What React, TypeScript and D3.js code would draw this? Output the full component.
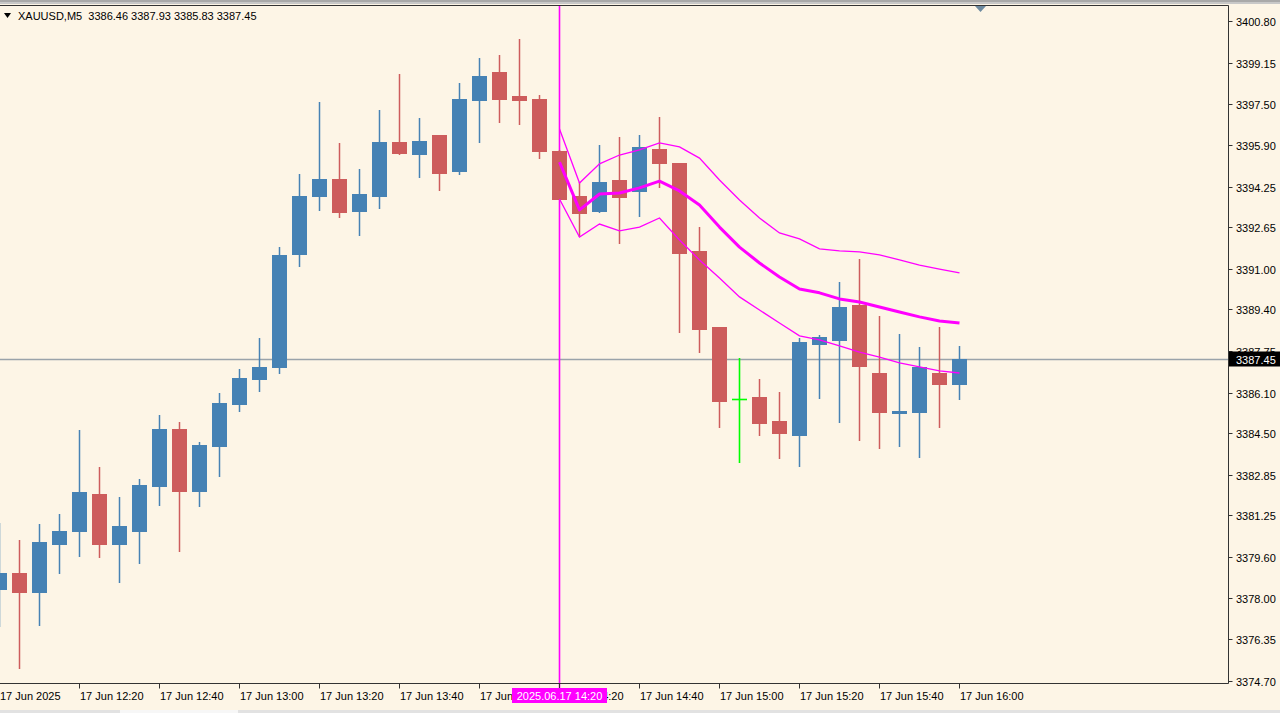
import React from "react";
import * as d3 from "d3";

const times = [
  "12:00","12:05","12:10","12:15","12:20","12:25","12:30","12:35","12:40","12:45",
  "12:50","12:55","13:00","13:05","13:10","13:15","13:20","13:25","13:30","13:35",
  "13:40","13:45","13:50","13:55","14:00","14:05","14:10","14:15","14:20","14:25",
  "14:30","14:35","14:40","14:45","14:50","14:55","15:00","15:05","15:10","15:15",
  "15:20","15:25","15:30","15:35","15:40","15:45","15:50","15:55","16:00",
];
const open = [
  3378.34,3378.97,3378.20,3380.12,3380.64,3382.10,3380.12,3380.64,3382.41,3384.67,
  3382.22,3384.00,3385.64,3386.64,3387.12,3391.59,3393.88,3394.55,3393.29,3393.88,
  3396.02,3395.54,3396.29,3394.87,3397.68,3398.78,3397.83,3397.72,3395.66,3393.88,
  3393.29,3394.51,3394.08,3395.74,3395.19,3391.71,3388.70,3385.85,3385.93,3384.98,
  3384.43,3388.03,3388.19,3389.57,3386.88,3385.30,3385.34,3386.88,3386.46,
];
const high = [
  3380.95,3380.28,3380.91,3381.31,3384.63,3383.16,3381.98,3382.69,3385.22,3384.94,
  3384.15,3386.09,3387.04,3388.27,3391.86,3394.75,3397.60,3395.98,3394.95,3397.28,
  3398.70,3396.96,3396.29,3398.35,3399.34,3399.46,3400.09,3397.87,3395.70,3394.43,
  3395.90,3396.21,3396.29,3397.00,3395.19,3392.65,3388.70,3387.47,3386.64,3386.13,
  3388.27,3388.38,3390.48,3391.39,3389.14,3388.42,3387.91,3388.70,3387.93,
];
const low = [
  3376.84,3375.18,3376.88,3378.93,3379.61,3379.57,3378.58,3379.33,3381.62,3379.80,
  3381.58,3382.77,3385.34,3386.13,3386.84,3391.07,3393.29,3393.01,3392.30,3393.37,
  3395.50,3394.59,3394.08,3394.71,3395.98,3396.77,3396.69,3395.34,3393.72,3392.26,
  3393.21,3391.98,3393.05,3394.20,3388.46,3387.67,3384.71,3383.32,3384.39,3383.48,
  3383.16,3385.85,3384.91,3384.19,3383.88,3383.96,3383.52,3384.71,3385.83,
];
const close = [
  3378.97,3378.20,3380.20,3380.64,3382.18,3380.12,3380.83,3382.45,3384.67,3382.22,
  3384.03,3385.70,3386.68,3387.12,3391.55,3393.88,3394.55,3393.25,3393.96,3396.02,
  3395.58,3396.06,3394.79,3397.72,3398.63,3397.72,3397.68,3395.66,3393.76,3393.21,
  3394.43,3393.84,3395.82,3395.19,3391.63,3388.62,3385.77,3385.85,3384.91,3384.51,
  3388.11,3388.31,3389.49,3387.16,3385.34,3385.38,3387.12,3386.46,3387.45,
];

// Indicator (starts at 14:20)
const bandStart = "14:20";
const bandUpper = [
  3396.53,3394.39,3395.15,3395.50,3395.70,3395.98,3395.82,3395.38,3394.51,3393.72,
  3393.01,3392.42,3392.18,3391.79,3391.71,3391.67,3391.55,3391.35,3391.15,3390.99,3390.84,
];
const bandMiddle = [
  3395.22,3393.33,3393.96,3394.00,3394.20,3394.47,3394.08,3393.52,3392.65,3391.86,
  3391.23,3390.68,3390.20,3390.05,3389.81,3389.69,3389.49,3389.29,3389.10,3388.94,3388.86,
];
const bandLower = [
  3393.76,3392.26,3392.77,3392.50,3392.65,3393.01,3392.14,3391.35,3390.64,3389.89,
  3389.37,3388.86,3388.35,3388.19,3387.95,3387.71,3387.51,3387.28,3387.12,3386.96,3386.88,
];

const priceTicks = [
  "3400.80","3399.15","3397.50","3395.90","3394.25","3392.65","3391.00","3389.40","3387.75",
  "3386.10","3384.50","3382.85","3381.25","3379.60","3378.00","3376.35","3374.70",
];
const timeTicks = ["12:00","12:20","12:40","13:00","13:20","13:40","14:00","14:20","14:40","15:00","15:20","15:40","16:00"];
const timeTickTexts = [
  "17 Jun 2025","17 Jun 12:20","17 Jun 12:40","17 Jun 13:00","17 Jun 13:20","17 Jun 13:40",
  "17 Jun 14:00","17 Jun 14:20","17 Jun 14:40","17 Jun 15:00","17 Jun 15:20","17 Jun 15:40","17 Jun 16:00",
];
const symbol = "XAUUSD,M5";
const lastPrice = 3387.45;
const crossTime = "14:20";
const crossLabel = "2025.06.17 14:20";

const W = 1280, H = 713;
const plotRight = 1228.5, plotTop = 5.5, plotBottom = 683.5;
const BG = "#FDF5E6";
const BULL = "#4682B4";
const BEAR = "#CD5C5C";
const DOJI = "#00FF00";
const MAG = "#FF00FF";
const FONT = "'Liberation Sans', Arial, sans-serif";

export default function App() {
  const x = d3.scalePoint<string>().domain(times).range([-1, 959]);
  const y = d3.scaleLinear().domain([3374.7, 3400.8]).range([681, 21]);

  const startIdx = times.indexOf(bandStart);
  const line = d3
    .line<number>()
    .x((_, i) => (x(times[startIdx + i]) as number) + 0.5)
    .y((v) => y(v));

  const fmt = d3.format(".2f");
  const header = [open, high, low, close].map((a) => fmt(a[a.length - 1])).join(" ");
  const crossX = (x(crossTime) as number) + 0.5;
  const lastY = Math.round(y(lastPrice)) + 0.5;

  return (
    <div style={{ position: "fixed", left: 0, top: 0, width: W, height: H, overflow: "hidden" }}>
      <svg width={W} height={H} style={{ display: "block" }} fontFamily={FONT}>
        <rect x={0} y={0} width={W} height={H} fill={BG} />
        <rect x={0} y={0} width={W} height={2} fill="#a9a9a9" />
        <rect x={0} y={2} width={W} height={2} fill="#c8c8c8" />
        <rect x={0} y={710} width={W} height={3} fill="#e2e2e2" />
        <rect x={120} y={710} width={118} height={3} fill="#f7f7f7" />

        {/* current price line */}
        <line x1={0} x2={plotRight} y1={lastY} y2={lastY} stroke="#9aa3aa" strokeWidth={1.3} />

        {/* crosshair vertical */}
        <line x1={crossX} x2={crossX} y1={plotTop} y2={688} stroke={MAG} strokeWidth={1.6} />

        {/* candles */}
        {times.map((t, i) => {
          const cx = x(t) as number;
          const o = open[i], c = close[i];
          const hiY = Math.round(y(high[i]));
          const loY = Math.round(y(low[i]));
          if (o === c) {
            const yy = Math.round(y(o)) + 0.5;
            return (
              <g key={t}>
                <line x1={cx + 0.5} x2={cx + 0.5} y1={hiY} y2={loY} stroke={DOJI} strokeWidth={1.6} />
                <line x1={cx - 7} x2={cx + 8} y1={yy} y2={yy} stroke={DOJI} strokeWidth={1.6} />
              </g>
            );
          }
          const col = c > o ? BULL : BEAR;
          const top = Math.round(y(Math.max(o, c)));
          const bot = Math.round(y(Math.min(o, c)));
          return (
            <g key={t}>
              <line x1={cx + 0.5} x2={cx + 0.5} y1={hiY} y2={loY} stroke={col} strokeWidth={1.5} />
              <rect x={cx - 7} y={top} width={15} height={Math.max(2, bot - top + 1)} fill={col} />
            </g>
          );
        })}

        {/* bands */}
        <path d={line(bandUpper) || ""} fill="none" stroke={MAG} strokeWidth={1.3} />
        <path d={line(bandLower) || ""} fill="none" stroke={MAG} strokeWidth={1.3} />
        <path d={line(bandMiddle) || ""} fill="none" stroke={MAG} strokeWidth={3} strokeLinejoin="round" />

        {/* frame */}
        <line x1={0} x2={plotRight} y1={plotTop} y2={plotTop} stroke="#333" />
        <line x1={plotRight} x2={plotRight} y1={plotTop} y2={plotBottom} stroke="#333" />
        <line x1={0} x2={plotRight} y1={plotBottom} y2={plotBottom} stroke="#333" />

        {/* shift marker */}
        <path d="M975,6 L986,6 L980.5,12 Z" fill="#6d8aa0" />

        {/* price axis */}
        {priceTicks.map((p) => {
          const yy = Math.round(y(+p)) + 0.5;
          return (
            <g key={p}>
              <line x1={plotRight} x2={plotRight + 4} y1={yy} y2={yy} stroke="#333" />
              <text x={1236} y={yy + 4} fontSize={11} fill="#000">{p}</text>
            </g>
          );
        })}
        <rect x={1229} y={lastY - 8} width={51} height={15} fill="#000" />
        <text x={1236} y={lastY + 4} fontSize={11} fill="#fff">{fmt(lastPrice)}</text>

        {/* time axis */}
        {timeTicks.map((t, i) => {
          const tx = (x(t) as number) + 0.5;
          return (
            <g key={t}>
              <line x1={tx} x2={tx} y1={plotBottom} y2={plotBottom + 5} stroke="#333" />
              <text x={tx + 0.5} y={700} fontSize={11} fill="#000">{timeTickTexts[i]}</text>
            </g>
          );
        })}
        <rect x={crossX - 47.5} y={688} width={95} height={15} fill={MAG} />
        <text x={crossX} y={700} fontSize={11} fill="#fff" textAnchor="middle">{crossLabel}</text>

        {/* header */}
        <path d="M4,13 L11,13 L7.5,18 Z" fill="#000" />
        <text x={18} y={20} fontSize={11} fill="#000" xmlSpace="preserve">{symbol + "  " + header}</text>
      </svg>
    </div>
  );
}
